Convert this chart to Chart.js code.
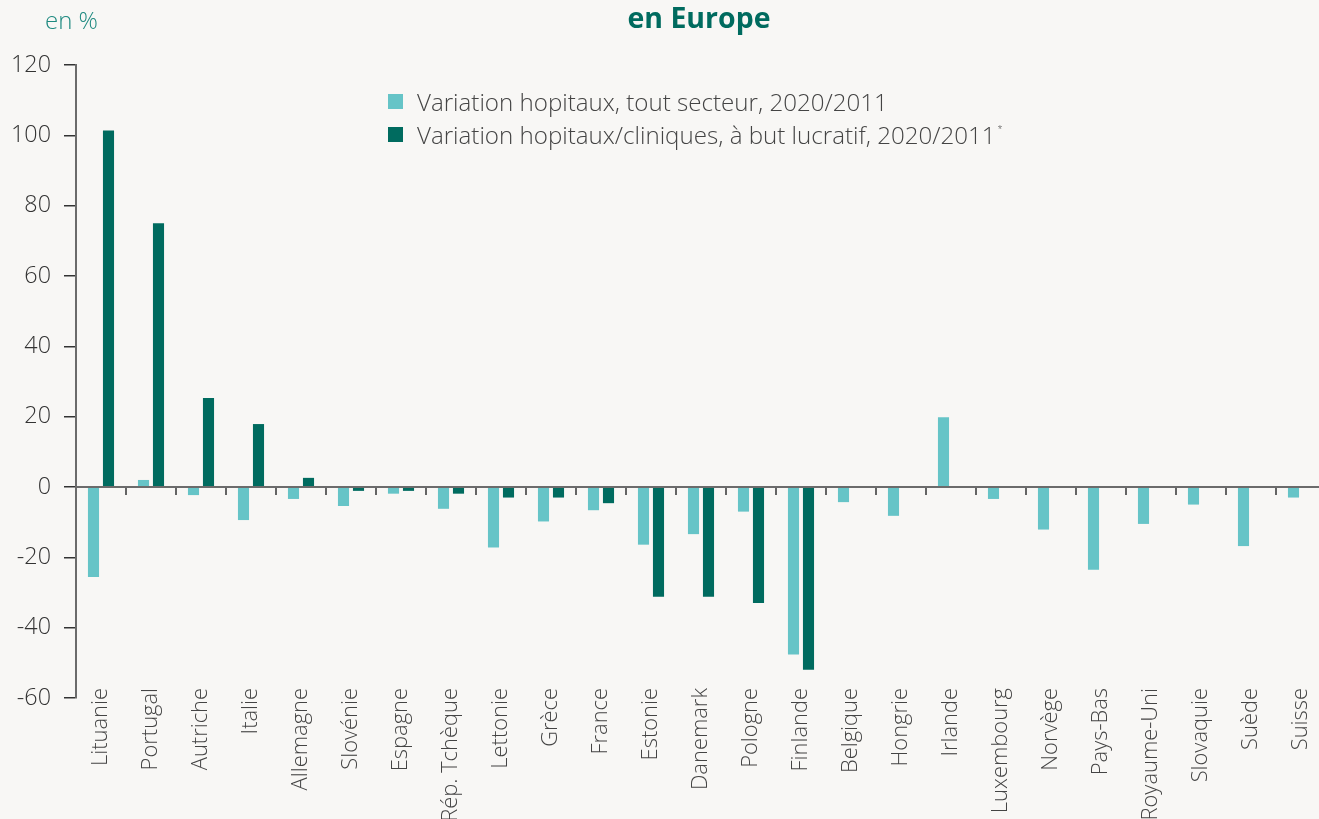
<!DOCTYPE html>
<html>
<head>
<meta charset="utf-8">
<script src="https://cdn.jsdelivr.net/npm/chart.js@4/dist/chart.umd.min.js"></script>
<style>
  html, body { margin:0; padding:0; background:#f8f7f5; overflow:hidden; width:1319px; height:819px; }
  #wrap { position:absolute; left:0; top:0; width:1340px; height:819px; }
  #title { position:absolute; left:0; width:1398px; top:-2px; text-align:center; font-family:'Open Sans',sans-serif; font-weight:700; font-size:22px; color:#006b5f; }
  #unit { position:absolute; left:45px; top:3px; font-family:'Open Sans',sans-serif; font-weight:300; font-size:19px; color:#1f8a80; }
  .leg { position:absolute; left:388px; font-family:'Open Sans',sans-serif; font-weight:300; font-size:19px; color:#444; white-space:nowrap; }
  .leg span.sw { position:absolute; left:0; top:6px; width:15px; height:15px; }
  .leg span.tx { position:absolute; left:29px; top:-3px; }
  sup { font-size:9px; vertical-align:top; position:relative; top:4px; margin-left:2px; }
</style>
</head>
<body>
<div id="wrap"><canvas id="c" width="1340" height="819"></canvas></div>
<div id="title">en Europe</div>
<div id="unit">en %</div>
<div class="leg" id="leg1" style="top:88px"><span class="sw" style="background:#66c4c7"></span><span class="tx">Variation hopitaux, tout secteur, 2020/2011</span></div>
<div class="leg" id="leg2" style="top:121px"><span class="sw" style="background:#006b5f"></span><span class="tx">Variation hopitaux/cliniques, à but lucratif, 2020/2011<sup>*</sup></span></div>
<script>
const categories = ["Lituanie","Portugal","Autriche","Italie","Allemagne","Slovénie","Espagne","Rép. Tchèque","Lettonie","Grèce","France","Estonie","Danemark","Pologne","Finlande","Belgique","Hongrie","Irlande","Luxembourg","Norvège","Pays-Bas","Royaume-Uni","Slovaquie","Suède","Suisse"];
const toutSecteur = [-25.6, 2.0, -2.3, -9.4, -3.4, -5.4, -1.9, -6.2, -17.2, -9.8, -6.6, -16.4, -13.4, -7.0, -47.6, -4.3, -8.2, 19.8, -3.4, -12.1, -23.5, -10.5, -5.0, -16.8, -3.0];
const butLucratif = [101.4, 75.0, 25.3, 17.9, 2.6, -1.1, -1.1, -1.9, -3.0, -3.0, -4.6, -31.2, -31.2, -33.0, -52.0, null, null, null, null, null, null, null, null, null, null];
const yTicks = [-60, -40, -20, 0, 20, 40, 60, 80, 100, 120];

const FAM = '"Open Sans"';
const mctx = document.createElement('canvas').getContext('2d');
function fitSize(text, weight, target) {
  mctx.font = `${weight} 20px ${FAM}`;
  return 20 * target / mctx.measureText(text).width;
}
const legSize = fitSize('Variation hopitaux, tout secteur, 2020/2011', 300, 471);
document.getElementById('leg1').style.fontSize = legSize + 'px';
document.getElementById('leg2').style.fontSize = legSize + 'px';
document.getElementById('title').style.fontSize = fitSize('en Europe', 700, 143) + 'px';
document.getElementById('unit').style.fontSize = fitSize('en %', 300, 53) + 'px';
const xSize = fitSize('Lituanie', 300, 78);
const ySize = fitSize('120', 300, 40);

const zeroLine = {
  id: 'zeroLine',
  afterDatasetsDraw(chart) {
    const {ctx, chartArea, scales:{x, y}} = chart;
    const y0 = y.getPixelForValue(0);
    ctx.save();
    ctx.strokeStyle = '#6b6b6b';
    ctx.lineWidth = 2;
    ctx.beginPath();
    ctx.moveTo(chartArea.left, y0);
    ctx.lineTo(chartArea.right, y0);
    ctx.stroke();
    ctx.strokeStyle = '#333';
    ctx.lineWidth = 1.5;
    for (let i = 1; i < categories.length; i++) {
      const bx = (x.getPixelForValue(i - 1) + x.getPixelForValue(i)) / 2;
      ctx.beginPath();
      ctx.moveTo(bx, y0 + 1);
      ctx.lineTo(bx, y0 + 8);
      ctx.stroke();
    }
    ctx.restore();
  },
  afterDraw(chart) {
    const {ctx, chartArea, scales:{x}} = chart;
    ctx.save();
    ctx.fillStyle = '#444';
    ctx.font = `300 ${xSize}px ${FAM}`;
    ctx.textAlign = 'right';
    ctx.textBaseline = 'middle';
    categories.forEach((lab, i) => {
      ctx.save();
      ctx.translate(x.getPixelForValue(i), chartArea.bottom - 10);
      ctx.rotate(-Math.PI / 2);
      ctx.fillText(lab, 0, 0);
      ctx.restore();
    });
    ctx.restore();
  }
};

new Chart(document.getElementById('c'), {
  type: 'bar',
  data: {
    labels: categories,
    datasets: [
      { label: 'Variation hopitaux, tout secteur, 2020/2011', data: toutSecteur, backgroundColor: '#66c4c7', categoryPercentage: 0.6, barPercentage: 0.74 },
      { label: 'Variation hopitaux/cliniques, à but lucratif, 2020/2011*', data: butLucratif, backgroundColor: '#006b5f', categoryPercentage: 0.6, barPercentage: 0.74 }
    ]
  },
  options: {
    responsive: false,
    animation: false,
    layout: { padding: { top: 65, right: 14, left: 0, bottom: 0 } },
    plugins: { legend: { display: false }, tooltip: { enabled: false } },
    scales: {
      x: {
        grid: { display: false },
        border: { display: false },
        ticks: { display: false },
        afterFit(s) { s.height = 121; }
      },
      y: {
        min: -60, max: 120,
        afterBuildTicks(s) { s.ticks = yTicks.map(v => ({ value: v })); },
        grid: { drawOnChartArea: false, drawTicks: true, tickLength: 12, color: '#333', lineWidth: 1.5 },
        border: { display: true, color: '#6b6b6b', width: 2 },
        ticks: { padding: 13, color: '#333', font: { family: 'Open Sans', weight: '300', size: ySize } },
        afterFit(s) { s.width = 76; }
      }
    }
  },
  plugins: [zeroLine]
});
</script>
</body>
</html>
